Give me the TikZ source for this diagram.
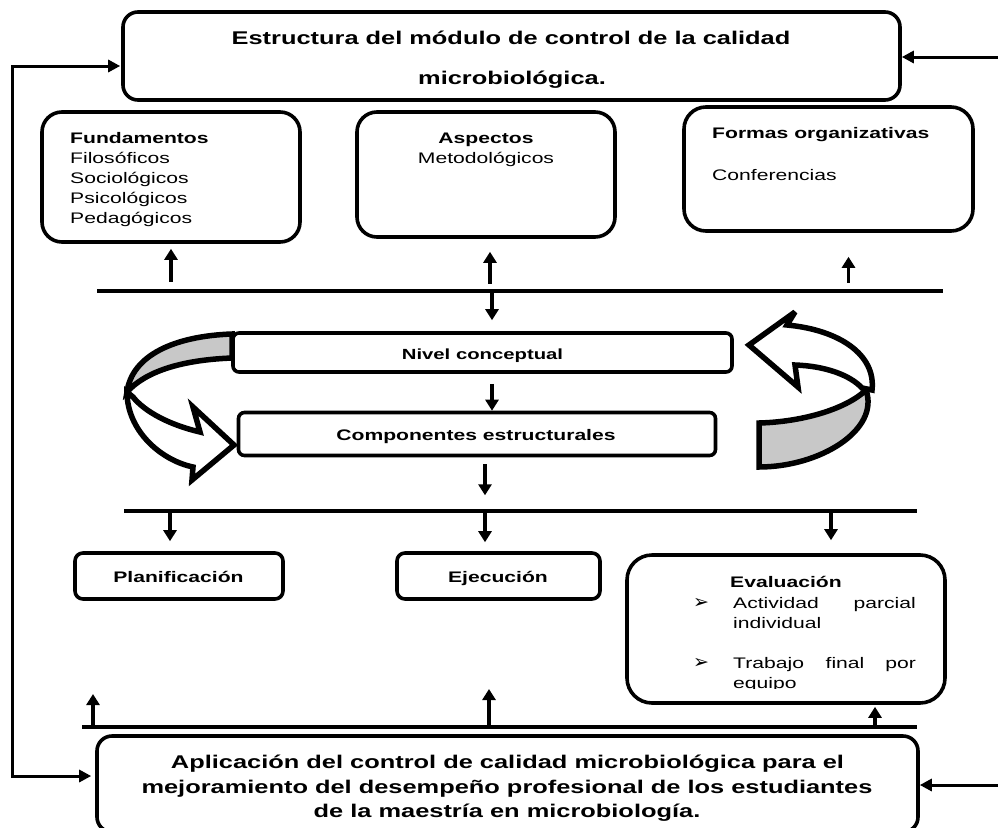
\documentclass[tikz,border=0pt]{standalone}
\usepackage{fontspec}
\setmainfont{Liberation Sans}[FakeStretch=1.38]
\newfontfamily\dejavu{DejaVu Sans}
\usetikzlibrary{arrows.meta,calc}
\definecolor{bandgray}{HTML}{C8C8C8}
\newcommand\fTitle{\fontsize{18.4}{22}\selectfont\bfseries}
\newcommand\fBox{\fontsize{15.3}{20}\selectfont}
\newcommand\fBoxB{\fontsize{15.3}{20}\selectfont\bfseries}
\newcommand\fNivel{\fontsize{14.7}{20}\selectfont\bfseries}
\begin{document}
\begin{tikzpicture}[x=1pt,y=-1pt,
  box/.style={draw, line width=3.6pt, inner sep=0pt},
  t/.style={inner sep=0pt, anchor=base},
  tl/.style={inner sep=0pt, anchor=base west},
  tr/.style={inner sep=0pt, anchor=base east},
  bus/.style={line width=3.6pt},
  arr/.style={line width=3.6pt, -{Triangle[length=11pt,width=13pt]}},
  fb/.style={line width=3pt},
  curv/.style={draw=black, line width=5.5pt, line join=miter, miter limit=4}]
\clip (0,0) rectangle (998,827);
\fill[white] (0,0) rectangle (998,827);

% ---------- boxes ----------
\node[box, rounded corners=15pt, minimum width=777pt, minimum height=88pt] (top) at (511.5,56) {};
\node[box, rounded corners=20pt, minimum width=258pt, minimum height=130pt] (fund) at (171,177) {};
\node[box, rounded corners=20pt, minimum width=258pt, minimum height=125pt] (asp) at (486,174.5) {};
\node[box, rounded corners=22pt, minimum width=289pt, minimum height=124pt] (formas) at (828.5,169) {};
\node[box, rounded corners=6pt, minimum width=499pt, minimum height=39pt] (nivel) at (482.5,352.5) {};
\node[box, rounded corners=6pt, minimum width=477pt, minimum height=43pt] (comp) at (477,434) {};
\node[box, rounded corners=8pt, minimum width=208pt, minimum height=46pt] (plan) at (179,576) {};
\node[box, rounded corners=8pt, minimum width=203pt, minimum height=46pt] (ejec) at (498.5,576) {};
\node[box, rounded corners=25pt, minimum width=318pt, minimum height=148pt] (eval) at (786,629) {};
\node[box, rounded corners=15pt, minimum width=821pt, minimum height=96pt] (bottom) at (507.5,784) {};

% ---------- texts ----------
\node[t] (title1) at (511,44) {\fTitle Estructura del módulo de control de la calidad};
\node[t] (title2) at (512,84) {\fTitle microbiológica.};

\node[tl] (fund1) at (70,143) {\fBoxB Fundamentos};
\node[tl] (fund2) at (70,163) {\fBox Filosóficos};
\node[tl] (fund3) at (70,183) {\fBox Sociológicos};
\node[tl] (fund4) at (70,203) {\fBox Psicológicos};
\node[tl] (fund5) at (70,223) {\fBox Pedagógicos};

\node[t] (asp1) at (486,143) {\fBoxB Aspectos};
\node[t] (asp2) at (486,163) {\fBox Metodológicos};

\node[tl] (formas1) at (712,138) {\fBoxB Formas organizativas};
\node[tl] (formas2) at (712,180) {\fBox Conferencias};

\node[t] (niveltxt) at (482.5,359) {\fNivel Nivel conceptual};
\node[t] (comptxt) at (476,440) {\fBoxB Componentes estructurales};
\node[t] (plantxt) at (178.5,582) {\fBoxB Planificación};
\node[t] (ejectxt) at (498,582) {\fBoxB Ejecución};

\node[tl] (eval0) at (730,587) {\fBoxB Evaluación};
\node[t] (bul1) at (701,608) {\dejavu\fontsize{19}{19}\selectfont ➢};
\node[tl] (eval1a) at (733,608) {\fBox Actividad};
\node[tr] (eval1b) at (916,608) {\fBox parcial};
\node[tl] (eval2) at (733,628) {\fBox individual};
\node[t] (bul2) at (701,668) {\dejavu\fontsize{19}{19}\selectfont ➢};
\node[tl] (eval3a) at (733,668) {\fBox Trabajo};
\node[t] (eval3b) at (845,668) {\fBox final};
\node[tr] (eval3c) at (916,668) {\fBox por};
\begin{scope}
  \clip (700,670) rectangle (930,688);
  \node[tl] (eval4) at (733,688) {\fBox equipo};
\end{scope}

\node[t] (bot1) at (507.5,768) {\fTitle Aplicación del control de calidad microbiológica para el};
\node[t] (bot2) at (507,793) {\fTitle mejoramiento del desempeño profesional de los estudiantes};
\node[t] (bot3) at (507,817) {\fTitle de la maestría en microbiología.};

% ---------- feedback connectors ----------
\coordinate (fbL) at (12,400);
\draw[fb, {Triangle[length=12pt,width=12pt]}-{Triangle[length=12pt,width=12pt]}]
  ($(top.west)+(-1,10)$) -| (fbL) |- ($(bottom.west)+(-4,-8)$);
\coordinate (rT) at (998,57);
\coordinate (rB) at (998,785);
\draw[fb, -{Triangle[length=12pt,width=12pt]}] (rT) -- (top.east |- rT);
\draw[fb, -{Triangle[length=12pt,width=12pt]}] (rB) -- (bottom.east |- rB);

% ---------- bus lines ----------
\coordinate (b1L) at (97,291);  \coordinate (b1R) at (943,291);
\coordinate (b2L) at (124,511); \coordinate (b2R) at (917,511);
\coordinate (b3L) at (82,727);  \coordinate (b3R) at (917,727);
\draw[bus] (b1L) -- (b1R);
\draw[bus] (b2L) -- (b2R);
\draw[bus] (b3L) -- (b3R);

% ---------- small arrows ----------
\draw[arr] ($(fund.south)+(0,38)$) -- ($(fund.south)+(0,5)$);
\draw[arr] ($(asp.south)+(4,45)$) -- ($(asp.south)+(4,13)$);
\draw[arr] ($(formas.south)+(20,50)$) -- ($(formas.south)+(20,24)$);
\draw[arr] ($(nivel.north)+(9.5,-38)$) -- ($(nivel.north)+(9.5,-11)$);
\draw[arr] ($(nivel.south)+(9.5,10)$) -- ($(comp.north)+(15,0)$);
\draw[arr] ($(comp.south)+(8,7)$) -- ($(comp.south)+(8,38)$);
\draw[arr] ($(plan.north)+(-9,-38)$) -- ($(plan.north)+(-9,-10)$);
\draw[arr] ($(ejec.north)+(-13.5,-38)$) -- ($(ejec.north)+(-13.5,-9)$);
\draw[arr] ($(eval.north)+(45,-40)$) -- ($(eval.north)+(45,-13)$);
\coordinate (u1a) at (93,727);  \coordinate (u1b) at (93,694);
\coordinate (u2a) at (489,727); \coordinate (u2b) at (489,689);
\draw[arr] (u1a) -- (u1b);
\draw[arr] (u2a) -- (u2b);
\draw[arr] ($(eval.south)+(89,24)$) -- ($(eval.south)+(89,2)$);

% ---------- curved block arrows ----------
% left
\path[curv, fill=bandgray] (232,334) .. controls (175,336) and (132,355) .. (127,392)
  .. controls (145,372) and (180,360) .. (232,358) -- cycle;
\path[curv, fill=white] (127,392) .. controls (127,430) and (160,460) .. (193,467)
  -- (192,480) -- (234,445) -- (193,407) -- (200,432)
  .. controls (170,425) and (145,412) .. (133,397) -- cycle;
% right
\path[curv, fill=bandgray] (759,423) .. controls (800,422) and (845,410) .. (866,390)
  .. controls (880,430) and (820,467) .. (759,467) -- cycle;
\path[curv, fill=white] (872,390) .. controls (876,355) and (840,330) .. (787,325)
  -- (795,312) -- (749,345) -- (798,387) -- (795,365)
  .. controls (825,366) and (850,375) .. (862,388) -- cycle;
\end{tikzpicture}
\end{document}
